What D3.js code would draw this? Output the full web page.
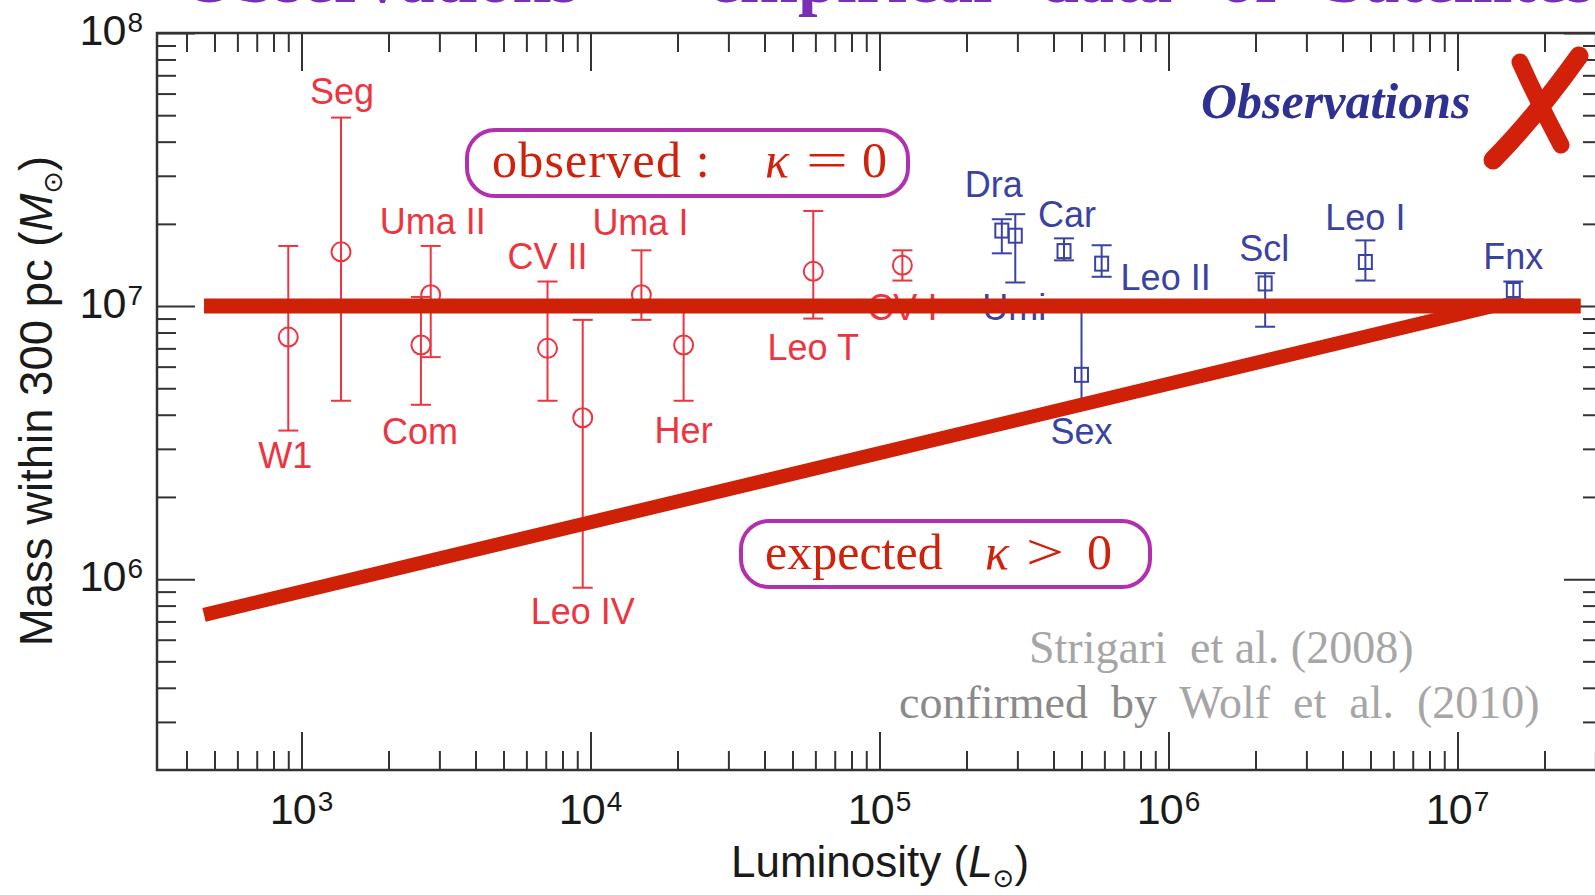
<!DOCTYPE html>
<html>
<head>
<meta charset="utf-8">
<script src="https://cdn.jsdelivr.net/npm/d3@7"></script>
<style>
  html, body { margin: 0; padding: 0; background: #fff; overflow: hidden; }
  text { white-space: pre; }
</style>
</head>
<body>
<svg id="chart" width="1595" height="895"></svg>
<script>
// Milky Way dwarf satellites: mass within 300 pc vs. luminosity
const galaxies   = ["W1", "Seg", "Com", "Uma II", "CV II", "Leo IV", "Uma I", "Her", "Leo T", "CV I",
                    "Dra", "Umi", "Car", "Sex", "Leo II", "Scl", "Leo I", "Fnx"];
const population = ["faint", "faint", "faint", "faint", "faint", "faint", "faint", "faint", "faint", "faint",
                    "classical", "classical", "classical", "classical", "classical", "classical", "classical", "classical"];
const luminosity = [900, 1370, 2590, 2800, 7100, 9400, 15000, 21000, 59000, 1.2e5,
                    2.65e5, 2.95e5, 4.35e5, 5.0e5, 5.87e5, 2.16e6, 4.8e6, 1.56e7];
const mass300    = [7.7e6, 1.58e7, 7.2e6, 1.1e7, 7.0e6, 3.9e6, 1.1e7, 7.2e6, 1.34e7, 1.41e7,
                    1.89e7, 1.81e7, 1.59e7, 5.6e6, 1.43e7, 1.21e7, 1.45e7, 1.145e7];
const massLow    = [3.5e6, 4.5e6, 4.35e6, 6.5e6, 4.5e6, 9.3e5, 8.9e6, 4.5e6, 9.0e6, 1.24e7,
                    1.56e7, 1.22e7, 1.47e7, 4.4e6, 1.28e7, 8.4e6, 1.24e7, 1.06e7];
const massHigh   = [1.66e7, 4.9e7, 1.08e7, 1.66e7, 1.23e7, 8.9e6, 1.6e7, 1.04e7, 2.23e7, 1.6e7,
                    2.08e7, 2.17e7, 1.77e7, 1.0e7, 1.67e7, 1.32e7, 1.74e7, 1.23e7];

// Common-mass line (observed) and L^(1/4) scaling (expected)
const observedLum  = [460, 2.67e7];
const observedMass = [1e7, 1e7];
const expectedLum  = [460, 1.33e7];
const expectedMass = [7.4e5, 1e7];

// Axis tick label exponents
const xTickExponents = [3, 4, 5, 6, 7];
const yTickExponents = [6, 7, 8];

// Label placement relative to each marker (pixels)
const labelOffset = {
  "W1": [-3, 131], "Seg": [1, -148], "Com": [-1, 99], "Uma II": [2, -61], "CV II": [0, -79],
  "Leo IV": [0, 206], "Uma I": [-1, -60], "Her": [0, 98], "Leo T": [0, 89], "CV I": [0, 55],
  "Dra": [-8, -34], "Umi": [-1, 84], "Car": [3, -24], "Sex": [0, 69], "Leo II": [64, 26],
  "Scl": [-1, -22], "Leo I": [0, -32], "Fnx": [0, -21]
};

const colors = { faint: "#ec3540", classical: "#3b43a2" };
const sans = "'Liberation Sans', Arial, Helvetica, sans-serif";
const serif = "'Liberation Serif', 'Times New Roman', Times, serif";

const svg = d3.select("#chart");
const plotLeft = 157, plotRight = 1602, plotTop = 33, plotBottom = 770;

const x = d3.scaleLog().domain([10 ** 2.5, 10 ** 7.5]).range([plotLeft, plotRight]);
const y = d3.scaleLog().domain([2e5, 1e8]).range([plotBottom, plotTop]);

function logTicks(scale, major) {
  const [a, b] = scale.domain();
  const out = [];
  for (let e = Math.floor(Math.log10(a)); e <= Math.ceil(Math.log10(b)); e++) {
    for (let m = 1; m < 10; m++) {
      const v = m * 10 ** e;
      if (v < a * 1.0001 || v > b * 1.0001) continue;
      if ((m === 1) === major) out.push(v);
    }
  }
  return out;
}

// Title line across the top edge
svg.append("text")
  .attr("x", 182).attr("y", 2)
  .attr("font-family", serif).attr("font-weight", "bold").attr("font-size", 70)
  .attr("word-spacing", 30).attr("fill", "#7a2db5")
  .text("Observations – empirical data of Satellites");

// Axes with inward ticks on all four sides
const axisColor = "#333";
function styleAxis(g) {
  g.select(".domain").remove();
  g.attr("color", axisColor);
  g.selectAll("line").attr("stroke-width", 2);
}
const axes = [
  [d3.axisBottom(x), `translate(0,${plotBottom})`, x],
  [d3.axisTop(x), `translate(0,${plotTop})`, x],
  [d3.axisLeft(y), `translate(${plotLeft},0)`, y],
  [d3.axisRight(y), `translate(${plotRight},0)`, y]
];
axes.forEach(([axis, tr, sc]) => {
  svg.append("g").attr("transform", tr)
    .call(axis.tickValues(logTicks(sc, true)).tickSize(-38).tickFormat(""))
    .call(styleAxis);
  svg.append("g").attr("transform", tr)
    .call(axis.tickValues(logTicks(sc, false)).tickSize(-19).tickFormat(""))
    .call(styleAxis);
});

// Plot frame
svg.append("path")
  .attr("d", `M${plotLeft},${plotTop}H${plotRight}V${plotBottom}H${plotLeft}Z`)
  .attr("fill", "none").attr("stroke", axisColor).attr("stroke-width", 2.5);

// Tick labels as powers of ten
svg.append("g").selectAll("text").data(xTickExponents).join("text")
  .attr("x", d => x(10 ** d)).attr("y", 824)
  .attr("text-anchor", "middle").attr("font-family", sans).attr("font-size", 43).attr("fill", "#1a1a1a")
  .each(function (d) {
    const t = d3.select(this);
    t.append("tspan").attr("letter-spacing", -1).text("10");
    t.append("tspan").attr("dy", -13).attr("dx", 2).attr("font-size", 28).text(d);
  });

svg.append("g").selectAll("text").data(yTickExponents).join("text")
  .attr("x", 143).attr("y", d => y(10 ** d) + 12)
  .attr("text-anchor", "end").attr("font-family", sans).attr("font-size", 43).attr("fill", "#1a1a1a")
  .each(function (d) {
    const t = d3.select(this);
    t.append("tspan").attr("letter-spacing", -1).text("10");
    t.append("tspan").attr("dy", -13).attr("dx", 2).attr("font-size", 28).text(d);
  });

// Axis titles
const xTitle = svg.append("text")
  .attr("x", 880).attr("y", 877).attr("text-anchor", "middle")
  .attr("font-family", sans).attr("font-size", 44).attr("fill", "#1a1a1a");
xTitle.append("tspan").text("Luminosity (");
xTitle.append("tspan").attr("font-style", "italic").text("L");
xTitle.append("tspan").attr("dy", 10).attr("font-size", 26).attr("font-family", "'DejaVu Sans', sans-serif").text("⊙");
xTitle.append("tspan").attr("dy", -10).text(")");

const yTitle = svg.append("text")
  .attr("transform", "translate(52,401) rotate(-90)").attr("text-anchor", "middle")
  .attr("font-family", sans).attr("font-size", 45.5).attr("fill", "#1a1a1a");
yTitle.append("tspan").text("Mass within 300 pc (");
yTitle.append("tspan").attr("font-style", "italic").text("M");
yTitle.append("tspan").attr("dy", 10).attr("font-size", 27).attr("font-family", "'DejaVu Sans', sans-serif").text("⊙");
yTitle.append("tspan").attr("dy", -10).text(")");

// Satellite measurements
const rows = galaxies.map((name, i) => ({
  name, kind: population[i], L: luminosity[i], M: mass300[i], lo: massLow[i], hi: massHigh[i]
}));

const marks = svg.append("g").attr("fill", "none").attr("stroke-width", 2);
const capHalf = 10;

const bars = marks.selectAll("g.bar").data(rows).join("g").attr("class", "bar")
  .attr("stroke", d => colors[d.kind]);
bars.append("line")
  .attr("x1", d => x(d.L)).attr("x2", d => x(d.L))
  .attr("y1", d => y(d.hi)).attr("y2", d => y(d.lo));
bars.append("line")
  .attr("x1", d => x(d.L) - capHalf).attr("x2", d => x(d.L) + capHalf)
  .attr("y1", d => y(d.hi)).attr("y2", d => y(d.hi));
bars.append("line")
  .attr("x1", d => x(d.L) - capHalf).attr("x2", d => x(d.L) + capHalf)
  .attr("y1", d => y(d.lo)).attr("y2", d => y(d.lo));

bars.filter(d => d.kind === "faint").append("circle")
  .attr("cx", d => x(d.L)).attr("cy", d => y(d.M)).attr("r", 9.5);
bars.filter(d => d.kind === "classical").append("rect")
  .attr("x", d => x(d.L) - 6.5).attr("y", d => y(d.M) - 7)
  .attr("width", 13).attr("height", 14);

svg.append("g").selectAll("text").data(rows).join("text")
  .attr("x", d => x(d.L) + labelOffset[d.name][0])
  .attr("y", d => y(d.M) + labelOffset[d.name][1])
  .attr("text-anchor", "middle").attr("font-family", sans).attr("font-size", 36)
  .attr("fill", d => colors[d.kind])
  .text(d => d.name);

// Observed and expected relations
const trend = d3.line().x(d => x(d[0])).y(d => y(d[1]));
const lineColor = "#cf2108";
svg.append("path")
  .attr("d", trend(d3.zip(expectedLum, expectedMass)))
  .attr("fill", "none").attr("stroke", lineColor).attr("stroke-width", 14);
svg.append("path")
  .attr("d", trend(d3.zip(observedLum, observedMass)))
  .attr("fill", "none").attr("stroke", lineColor).attr("stroke-width", 15);

// Framed relation labels
const boxStroke = "#b22fae", boxText = "#d0210c";
function pill(x0, y0, w, h) {
  svg.append("rect").attr("x", x0).attr("y", y0).attr("width", w).attr("height", h)
    .attr("rx", 28).attr("ry", 28)
    .attr("fill", "#fff").attr("stroke", boxStroke).attr("stroke-width", 4);
}
function boxLabel(xPos, yPos, str, opts = {}) {
  const t = svg.append("text").attr("x", xPos).attr("y", yPos)
    .attr("font-family", serif).attr("font-size", 50).attr("fill", boxText).text(str);
  if (opts.italic) t.attr("font-style", "italic");
  if (opts.spacing) t.attr("letter-spacing", opts.spacing);
  if (opts.width) t.attr("textLength", opts.width).attr("lengthAdjust", "spacingAndGlyphs");
  return t;
}
pill(467, 130, 441, 66);
boxLabel(492, 177, "observed :", { spacing: 1.2 });
boxLabel(765, 177, "κ", { italic: true });
boxLabel(806, 177, "=", { width: 42 });
boxLabel(862, 177, "0");

pill(741, 521, 409, 66);
boxLabel(765, 569, "expected");
boxLabel(985, 569, "κ", { italic: true });
boxLabel(1026, 569, ">", { width: 38 });
boxLabel(1087, 569, "0");

// Source notes
svg.append("text").attr("x", 1029).attr("y", 663)
  .attr("font-family", serif).attr("font-size", 46).attr("fill", "#a6a6a6")
  .text("Strigari  et al. (2008)");
const conf = svg.append("text").attr("x", 899).attr("y", 718)
  .attr("font-family", serif).attr("font-size", 46);
conf.append("tspan").attr("fill", "#8a8a8a").text("confirmed  by  ");
conf.append("tspan").attr("fill", "#a6a6a6").text("Wolf  et  al.  (2010)");

// Verdict
svg.append("text").attr("x", 1201).attr("y", 118)
  .attr("font-family", serif).attr("font-size", 50).attr("font-weight", "bold").attr("font-style", "italic")
  .attr("fill", "#2e3192").text("Observations");

const cross = svg.append("g").attr("fill", "none").attr("stroke", "#d2200a").attr("stroke-linecap", "round");
cross.append("path").attr("d", "M1520,62 Q1538,102 1561,145").attr("stroke-width", 17);
cross.append("path").attr("d", "M1493,160 Q1533,120 1579,56").attr("stroke-width", 19);
</script>
</body>
</html>
